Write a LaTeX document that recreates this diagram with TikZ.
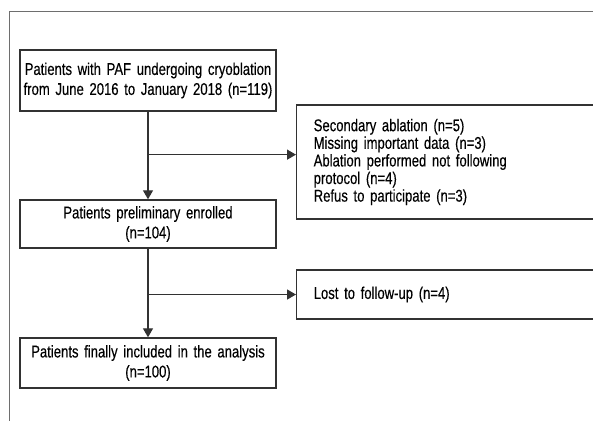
\documentclass[tikz,border=0pt]{standalone}
\definecolor{framegray}{RGB}{110,110,110}
\definecolor{boxline}{RGB}{50,50,50}
\usepackage{fontspec}
\setmainfont[FakeStretch=0.77, FakeBold=0.3]{Liberation Sans}
\usepackage{tikz}
\usetikzlibrary{arrows.meta,positioning,calc}

\tikzset{
  flowbox/.style={draw=boxline, line width=0.7pt, align=center, inner sep=1pt,
    text width=126pt, minimum width=128pt, font=\fontsize{8.5}{10}\selectfont},
  sidebox/.style={draw=boxline, line width=0.7pt, align=left, anchor=west,
    inner xsep=8.5pt, text width=143pt, font=\fontsize{8.5}{8.8}\selectfont},
  flowarrow/.style={draw=boxline, line width=0.65pt, -{Triangle[length=4.5pt,width=5pt]}}
}

\begin{document}
\begin{tikzpicture}[x=0.5pt, y=-0.5pt]
    \useasboundingbox (0,0) rectangle (593,420);
    \clip (0,0) rectangle (593,420);
    % outer frame, cut off at the right and bottom
    \draw[framegray, line width=0.5pt] (9,11) rectangle (650,470);

    % main column
    \node[flowbox, minimum height=30.5pt] (enrol) at (148,80.5)
      {Patients with PAF undergoing cryoblation\\from June 2016 to January 2018 (n=119)};
    \node[flowbox, minimum height=24pt] (prelim) at (148,224)
      {Patients preliminary enrolled\\(n=104)};
    \node[flowbox, minimum height=25pt] (final) at (148,363)
      {Patients finally included in the analysis\\(n=100)};

    % excluded boxes
    \node[sidebox, minimum height=57pt] (excl) at (296,162)
      {Secondary ablation (n=5)\\Missing important data (n=3)\\Ablation performed not following\\protocol (n=4)\\Refus to participate (n=3)};
    \node[sidebox, minimum height=24.5pt] (lost) at (296,294.5)
      {Lost to follow-up (n=4)};

    % connectors
    \coordinate (split1) at ($(enrol.south)!0.49!(prelim.north)$);
    \coordinate (split2) at (lost.west -| prelim.south);
    \draw[flowarrow] (enrol.south) -- (prelim.north);
    \draw[flowarrow] (split1) -- (split1 -| excl.west);
    \draw[flowarrow] (prelim.south) -- (final.north);
    \draw[flowarrow] (split2) -- (lost.west);
\end{tikzpicture}
\end{document}
